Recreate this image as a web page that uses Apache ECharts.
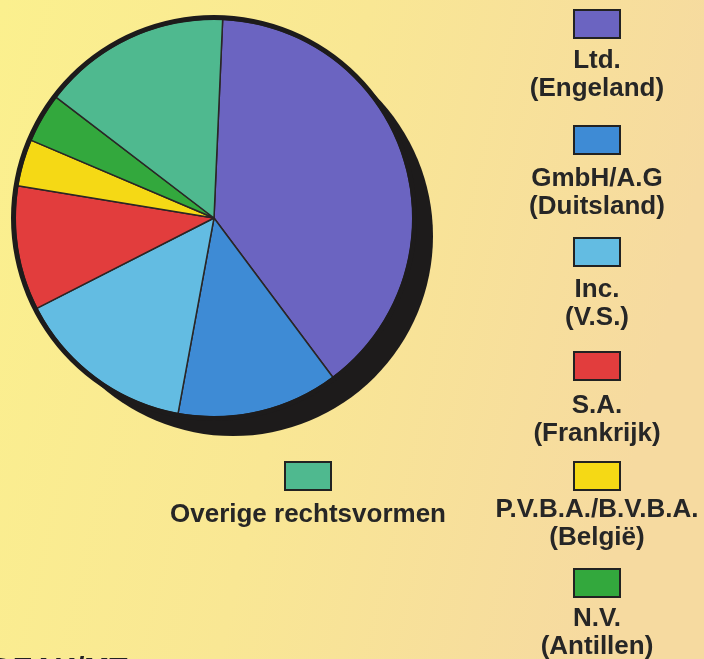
<!DOCTYPE html>
<html>
<head>
<meta charset="utf-8">
<script src="https://cdn.jsdelivr.net/npm/echarts@6/dist/echarts.min.js"></script>
<style>
html,body{margin:0;padding:0;}
#chart{width:704px;height:659px;}
</style>
</head>
<body>
<div id="chart"></div>
<script>
// ---- data ----
const labelTop = ['Ltd.', 'GmbH/A.G', 'Inc.', 'S.A.', 'P.V.B.A./B.V.B.A.', 'N.V.', 'Overige rechtsvormen'];
const labelBottom = ['(Engeland)', '(Duitsland)', '(V.S.)', '(Frankrijk)', '(België)', '(Antillen)', ''];
const shares = [39.1, 13.1, 14.6, 10.1, 3.8, 4.0, 15.3];
const colors = ['#6b64c1', '#3e8bd5', '#63bce2', '#e23d3d', '#f5d915', '#33a83d', '#4fb98f'];

const names = labelTop.map((t, i) => labelBottom[i] ? t + ' ' + labelBottom[i] : t);

// legend placement (center x, top of box, box line height)
const legendPos = [
  [596, 9, 46], [596, 125, 50], [596, 237, 48], [596, 351, 52],
  [596, 461, 40], [596, 568, 44], [307, 461, 50]
];

const chart = echarts.init(document.getElementById('chart'), null, {renderer: 'canvas'});

const textTok = {
  fontFamily: 'Liberation Sans, Arial, sans-serif',
  fontWeight: 'bold',
  fontSize: 26,
  lineHeight: 28,
  color: '#262626',
  align: 'center'
};

const legends = names.map((n, i) => {
  const W = i === 6 ? 300 : 214;
  const [cx, boxTop, L] = legendPos[i];
  const lines = ['{b|}', '{t|' + labelTop[i] + '}'];
  if (labelBottom[i]) lines.push('{t|' + labelBottom[i] + '}');
  return {
    show: true,
    data: [n],
    orient: 'vertical',
    left: cx - W / 2 - 5,
    top: boxTop,
    padding: 0,
    itemWidth: 0,
    itemHeight: 0,
    selectedMode: false,
    formatter: () => lines.join('\n'),
    textStyle: {
      rich: {
        b: {width: 44, height: 26, lineHeight: L, backgroundColor: colors[i],
            borderColor: '#222', borderWidth: 2, align: 'center'},
        t: Object.assign({width: W}, textTok)
      }
    }
  };
});

const option = {
  animation: false,
  backgroundColor: {
    type: 'linear', x: 0, y: 0, x2: 1, y2: 0.25,
    colorStops: [
      {offset: 0, color: '#fbf08e'},
      {offset: 0.5, color: '#f9e794'},
      {offset: 1, color: '#f6daa0'}
    ]
  },
  legend: legends,
  series: [
    {
      type: 'pie', name: 'shadow', silent: true, z: 1,
      center: [233, 236], radius: 200, startAngle: 90,
      label: {show: false}, labelLine: {show: false},
      emphasis: {disabled: true},
      itemStyle: {color: '#1d1b1b', borderWidth: 0},
      data: [{name: 'shadow', value: 1}]
    },
    {
      type: 'pie', name: 'Rechtsvormen', z: 3,
      center: [214, 218], radius: 199, startAngle: 87.5, clockwise: true,
      label: {show: false}, labelLine: {show: false},
      emphasis: {disabled: true},
      itemStyle: {borderColor: '#2a2626', borderWidth: 1.5},
      data: names.map((n, i) => ({name: n, value: shares[i], itemStyle: {color: colors[i]}}))
    },
    {
      type: 'pie', name: 'ring', silent: true, z: 4,
      center: [214, 218], radius: [198, 203], startAngle: 90,
      label: {show: false}, labelLine: {show: false},
      emphasis: {disabled: true},
      itemStyle: {color: '#1d1b1b', borderWidth: 0},
      data: [{name: 'ring', value: 1}]
    }
  ],
  graphic: [
    {type: 'text', left: -9, top: 655,
     style: {text: 'DEAK/MT', fontFamily: 'Liberation Sans, Arial, sans-serif', fontWeight: 'bold', fontSize: 30, fill: '#222'}}
  ]
};
chart.setOption(option);
</script>
</body>
</html>
